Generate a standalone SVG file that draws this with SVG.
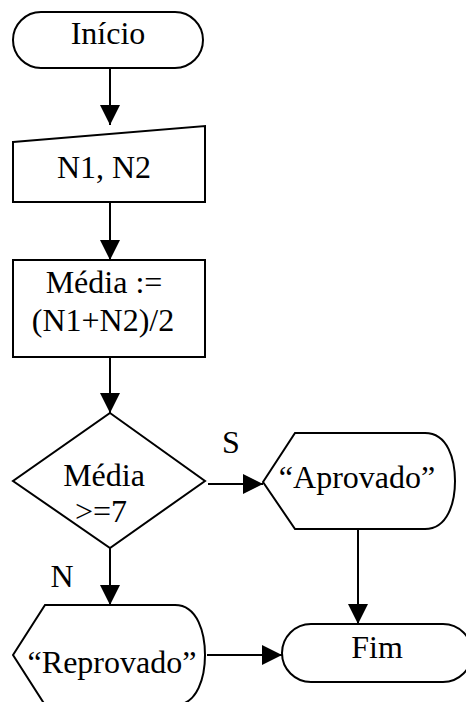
<svg xmlns="http://www.w3.org/2000/svg" width="466" height="702" viewBox="0 0 466 702">
<style>
.s{fill:#fff;stroke:#000;stroke-width:2}
.c{stroke:#000;stroke-width:2;fill:none;marker-end:url(#ah)}
.t{font-family:'Liberation Serif','Times New Roman',Times,serif;font-size:32px;fill:#000;text-anchor:middle}
</style>
<defs>
<marker id="ah" markerUnits="userSpaceOnUse" markerWidth="20" markerHeight="20" refX="20" refY="10" orient="auto" viewBox="0 0 20 20">
<path d="M0,0 L20,10 L0,20 Z" fill="#000"/>
</marker>
</defs>
<rect width="466" height="702" fill="#fff"/>
<g id="inicio"><rect class="s" x="13" y="12" width="190" height="56" rx="28"/><text class="t" font-family="Liberation Serif, serif" x="108" y="44">Início</text></g>
<g id="entrada"><path class="s" d="M13,142 L205,126 L205,202 L13,202 Z"/><text class="t" font-family="Liberation Serif, serif" x="104" y="178">N1, N2</text></g>
<g id="media"><rect class="s" x="13" y="260" width="192" height="97"/><text class="t" font-family="Liberation Serif, serif" x="104" y="293">Média :=</text><text class="t" font-family="Liberation Serif, serif" x="103" y="331">(N1+N2)/2</text></g>
<g id="decisao"><path class="s" d="M110,413 L205,481 L110,548 L13,481 Z"/><text class="t" font-family="Liberation Serif, serif" x="104" y="486">Média</text><text class="t" font-family="Liberation Serif, serif" x="101" y="522">&gt;=7</text></g>
<g id="aprovado"><path class="s" d="M263,482 L295,433 L425,433 C448,433 455,460 455,481 C455,502 448,529 425,529 L295,529 Z"/><text class="t" font-family="Liberation Serif, serif" x="357" y="488">“Aprovado”</text></g>
<g id="reprovado"><path class="s" d="M13,655 L45,605 L175,605 C198,605 205,634 205,655 C205,676 198,705 175,705 L45,705 Z"/><text class="t" font-family="Liberation Serif, serif" x="112" y="673">“Reprovado”</text></g>
<g id="fim"><rect class="s" x="282" y="624" width="190" height="58" rx="29"/><text class="t" font-family="Liberation Serif, serif" x="377" y="658">Fim</text></g>
<g id="connectors">
<line class="c" x1="110" y1="68" x2="110" y2="125"/>
<line class="c" x1="110" y1="202" x2="110" y2="260"/>
<line class="c" x1="110" y1="357" x2="110" y2="413"/>
<line class="c" x1="208" y1="484" x2="263" y2="484"/>
<line class="c" x1="110" y1="548" x2="110" y2="605"/>
<line class="c" x1="207" y1="655" x2="282" y2="655"/>
<line class="c" x1="358" y1="529" x2="358" y2="624"/>
<text class="t" font-family="Liberation Serif, serif" x="231" y="453">S</text>
<text class="t" font-family="Liberation Serif, serif" x="62" y="587">N</text>
</g>
</svg>
